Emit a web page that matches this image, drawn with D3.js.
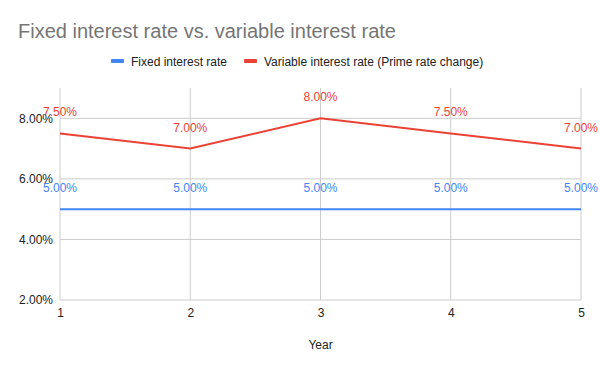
<!DOCTYPE html>
<html>
<head>
<meta charset="utf-8">
<script src="https://cdn.jsdelivr.net/npm/d3@7"></script>
<style>
  body { margin: 0; background: #fff; }
  text { font-family: "Liberation Sans", Arial, sans-serif; }
</style>
</head>
<body>
<script>
var w = 600;
var h = 371;

var years = [1, 2, 3, 4, 5];
var fixedRate = [5.0, 5.0, 5.0, 5.0, 5.0];
var variableRate = [7.5, 7.0, 8.0, 7.5, 7.0];
var yTicks = [2, 4, 6, 8];
var seriesNames = ["Fixed interest rate", "Variable interest rate (Prime rate change)"];
var seriesColors = ["#4285F4", "#EA4335"];

var plotLeft = 60, plotRight = 581, plotTop = 88, plotBottom = 300;

var xScale = d3.scaleLinear().domain([1, 5]).range([plotLeft, plotRight]);
var yScale = d3.scaleLinear().domain([2, 9]).range([plotBottom, plotTop]);

var svg = d3.select("body").append("svg")
  .attr("width", w)
  .attr("height", h);

// title
svg.append("text")
  .attr("x", 18)
  .attr("y", 38)
  .attr("font-size", 20)
  .attr("fill", "#757575")
  .text("Fixed interest rate vs. variable interest rate");

// gridlines
svg.append("g")
  .selectAll("line")
  .data(yTicks)
  .enter().append("line")
  .attr("x1", plotLeft).attr("x2", plotRight)
  .attr("y1", function(d) { return yScale(d); })
  .attr("y2", function(d) { return yScale(d); })
  .attr("stroke", "#cccccc");

svg.append("g")
  .selectAll("line")
  .data(years)
  .enter().append("line")
  .attr("x1", function(d) { return xScale(d); })
  .attr("x2", function(d) { return xScale(d); })
  .attr("y1", plotTop).attr("y2", plotBottom)
  .attr("stroke", "#cccccc");

// axes
var yAxis = d3.axisLeft(yScale)
  .tickValues(yTicks)
  .tickSize(0)
  .tickPadding(7)
  .tickFormat(function(d) { return d.toFixed(2) + "%"; });

svg.append("g")
  .attr("transform", "translate(" + plotLeft + ",0)")
  .call(yAxis)
  .call(function(g) { g.select(".domain").remove(); })
  .selectAll("text")
  .attr("font-size", 12)
  .attr("font-family", "Liberation Sans, Arial, sans-serif")
  .attr("fill", "#222");

var xAxis = d3.axisBottom(xScale)
  .tickValues(years)
  .tickSize(0)
  .tickPadding(8)
  .tickFormat(d3.format("d"));

svg.append("g")
  .attr("transform", "translate(0," + plotBottom + ")")
  .call(xAxis)
  .call(function(g) { g.select(".domain").remove(); })
  .selectAll("text")
  .attr("font-size", 12)
  .attr("font-family", "Liberation Sans, Arial, sans-serif")
  .attr("fill", "#222");

svg.append("text")
  .attr("x", (plotLeft + plotRight) / 2)
  .attr("y", 349)
  .attr("text-anchor", "middle")
  .attr("font-size", 12)
  .attr("fill", "#222")
  .text("Year");

// lines
var line = d3.line()
  .x(function(d, i) { return xScale(years[i]); })
  .y(function(d) { return yScale(d); });

[fixedRate, variableRate].forEach(function(series, s) {
  svg.append("path")
    .datum(series)
    .attr("d", line)
    .attr("fill", "none")
    .attr("stroke", seriesColors[s])
    .attr("stroke-width", 2);

  svg.append("g")
    .selectAll("text")
    .data(series)
    .enter().append("text")
    .attr("x", function(d, i) { return xScale(years[i]); })
    .attr("y", function(d) { return yScale(d) - 17; })
    .attr("text-anchor", "middle")
    .attr("font-size", 12)
    .attr("fill", seriesColors[s])
    .text(function(d) { return d.toFixed(2) + "%"; });
});

// legend
var legendX = [111, 244];
seriesNames.forEach(function(name, i) {
  svg.append("rect")
    .attr("x", legendX[i])
    .attr("y", 59)
    .attr("width", 13)
    .attr("height", 4)
    .attr("rx", 1)
    .attr("fill", seriesColors[i]);
  svg.append("text")
    .attr("x", legendX[i] + 20)
    .attr("y", 65.5)
    .attr("font-size", 12)
    .attr("fill", "#222")
    .text(name);
});
</script>
</body>
</html>
